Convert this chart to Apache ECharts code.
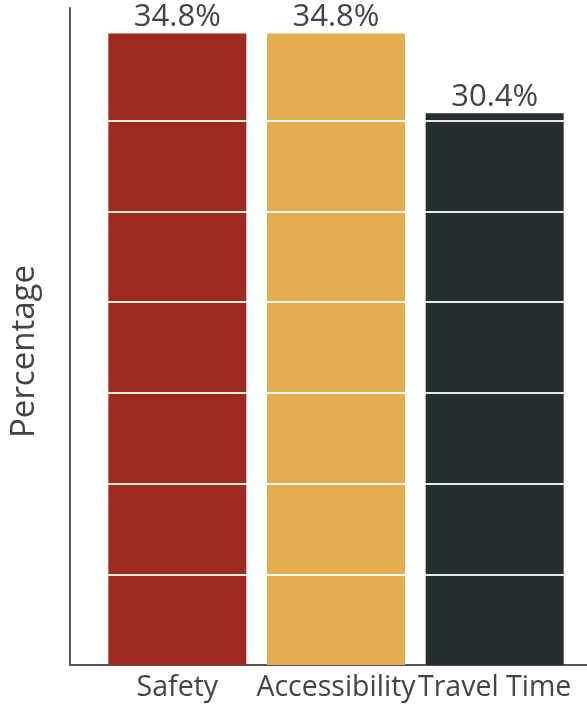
<!DOCTYPE html>
<html>
<head>
<meta charset="utf-8">
<script src="https://cdn.jsdelivr.net/npm/echarts@6/dist/echarts.min.js"></script>
<style>
  html, body { margin: 0; padding: 0; background: #fff; }
  #chart { width: 587px; height: 715px; }
</style>
</head>
<body>
<div id="chart"></div>
<script>
// Share of responses by priority
const categories = ['Safety', 'Accessibility', 'Travel Time'];
const values = [34.8, 34.8, 30.4];
const barColors = ['#9e2a22', '#e4ae50', '#262e30'];

const FONT = '"Open Sans", sans-serif';
const TEXT = '#444444';
const AXIS = '#555555';
const Y_MAX = 36.2;

const chart = echarts.init(document.getElementById('chart'), null, { renderer: 'canvas' });

chart.setOption({
  animation: false,
  backgroundColor: '#ffffff',
  grid: [
    // frame carrying the axis lines and the white rules
    { left: 69, right: 0, top: 8, bottom: 50 },
    // bars
    { left: 98, right: 13, top: 8, bottom: 50 }
  ],
  xAxis: [
    {
      gridIndex: 0, type: 'value', min: 0, max: 1,
      axisLine: { show: true, lineStyle: { color: AXIS, width: 2 } },
      axisTick: { show: false }, axisLabel: { show: false }, splitLine: { show: false }
    },
    {
      gridIndex: 1, type: 'category', data: categories,
      axisLine: { show: false }, axisTick: { show: false },
      axisLabel: { interval: 0, color: TEXT, fontFamily: FONT, fontSize: 28.5, margin: 8 }
    }
  ],
  yAxis: [
    {
      gridIndex: 0, type: 'value', min: 0, max: Y_MAX, interval: 5, z: 3,
      name: 'Percentage', nameLocation: 'middle', nameGap: 29,
      nameTextStyle: { color: TEXT, fontFamily: FONT, fontSize: 33, padding: [0, 30, 0, 0] },
      axisLine: { show: true, lineStyle: { color: AXIS, width: 2 } },
      axisTick: { show: false }, axisLabel: { show: false },
      splitLine: {
        show: true, showMinLine: false, showMaxLine: false,
        lineStyle: { color: '#ffffff', width: 2, opacity: 0.9 }
      }
    },
    {
      gridIndex: 1, type: 'value', min: 0, max: Y_MAX, show: false
    }
  ],
  series: [{
    type: 'bar',
    xAxisIndex: 1, yAxisIndex: 1,
    data: values,
    barWidth: 138,
    itemStyle: { color: p => barColors[p.dataIndex] },
    label: {
      show: true, position: 'top', distance: 1,
      formatter: p => p.value.toFixed(1) + '%',
      color: TEXT, fontFamily: FONT, fontSize: 31
    }
  }]
});
</script>
</body>
</html>
